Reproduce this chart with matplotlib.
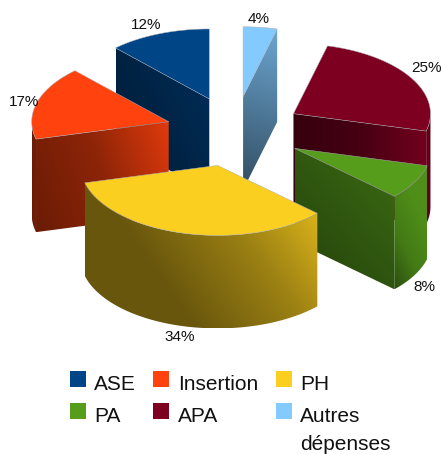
import numpy as np
import matplotlib
matplotlib.use("Agg")
import matplotlib.pyplot as plt
from matplotlib.colors import LinearSegmentedColormap, to_rgb
from matplotlib.patches import Polygon, Rectangle

names = ["ASE", "Insertion", "PH", "PA", "APA", "Autres\ndépenses"]
values = [12, 17, 34, 8, 25, 4]
colors = ["#004586", "#ff420e", "#fbcf1f", "#579d1c", "#7e0021", "#83caff"]

# percent label centres, pixels
label_xy = [(146, 25), (24, 102), (180, 337), (424, 287), (427, 68), (259, 19)]

# pie geometry, pixels
cx, cy = 234.5, 131.5
rx, ry = 137, 70
depth = 93
explode = 0.5

# wall shading: stops as multiples of the base colour, and gradient direction
wall_shade = {
    "ASE": ([0.4, 0.52, 0.68], (1, -0.5)),
    "Insertion": ([0.42, 0.55, 0.88], (1, -0.35)),
    "PA": ([0.42, 0.68], (1, -0.9)),
    "APA": ([0.42, 0.55, 0.9], (1, 0)),
    "Autres\ndépenses": ([0.38, 0.82], (0.35, -1)),
}
rim_shade = {
    "Insertion": ([0.42, 0.45], (1, 0)),
    "PH": ([0.42, 0.42, 0.62, 0.92], (1, -0.7)),
    "PA": ([0.5, 0.78, 0.9, 0.92], (1, -0.5)),
    "APA": ([0.85, 0.7], (1, 0)),
}

fig = plt.figure(figsize=(4.41, 4.54), dpi=100)
ax = fig.add_axes([0, 0, 1, 1])
ax.set_xlim(0, 441)
ax.set_ylim(454, 0)
ax.axis("off")


def ell(ox, oy, deg):
    a = np.radians(deg)
    return np.column_stack([ox + rx * np.cos(a), oy - ry * np.sin(a)])


def shaded(pts, base, stops, direction, z):
    # gradient image clipped to a polygon
    pts = np.asarray(pts)
    x0, y0 = pts.min(axis=0)
    x1, y1 = pts.max(axis=0)
    xx, yy = np.meshgrid(np.linspace(x0, x1, 120), np.linspace(y0, y1, 120))
    t = xx * direction[0] + yy * direction[1]
    t = (t - t.min()) / max(t.max() - t.min(), 1e-6)
    rgb = np.array(to_rgb(base))
    cmap = LinearSegmentedColormap.from_list("s", [tuple(np.clip(rgb * s, 0, 1)) for s in stops])
    im = ax.imshow(t, cmap=cmap, extent=[x0, x1, y1, y0], zorder=z, aspect="auto", interpolation="bilinear")
    patch = Polygon(pts, closed=True, fc="none", ec="none", zorder=z)
    ax.add_patch(patch)
    im.set_clip_path(patch)


fracs = np.array(values) / sum(values)
starts = 90 + np.cumsum(np.r_[0, fracs[:-1]]) * 360
ends = starts + fracs * 360
mids = (starts + ends) / 2

# back to front
order = np.argsort(-np.sin(np.radians(mids)))
z = 2
for i in order:
    a, b = starts[i], ends[i]
    m = np.radians(mids[i])
    ox = cx + explode * rx * np.cos(m)
    oy = cy - explode * ry * np.sin(m)
    apex = np.array([[ox, oy]])
    name = names[i]
    col = colors[i]

    # cut walls that face the viewer
    for edge, seen in ((b, np.cos(np.radians(b)) < -1e-6), (a, np.cos(np.radians(a)) > 1e-6)):
        if seen:
            p = ell(ox, oy, edge)
            wall = np.vstack([apex, p, p + [0, depth], apex + [0, depth]])
            shaded(wall, col, *wall_shade[name], z)
            z += 1

    # outer rim, lower half of the ellipse only
    for lo, hi in ((a, b), (a - 360, b - 360)):
        r0, r1 = max(lo, 180), min(hi, 360)
        if r1 > r0:
            arc = ell(ox, oy, np.linspace(r0, r1, 80))
            rim = np.vstack([arc, (arc + [0, depth])[::-1]])
            shaded(rim, col, *rim_shade[name], z)
            z += 1

    top = np.vstack([apex, ell(ox, oy, np.linspace(a, b, 100))])
    ax.add_patch(Polygon(top, closed=True, fc=col, ec="#a9aeb4", lw=0.35, zorder=z))
    z += 1

for xy, v in zip(label_xy, values):
    ax.text(xy[0], xy[1], "%d%%" % v, ha="center", va="center", fontsize=11,
            family="Liberation Sans", color="#111111", zorder=50)

# legend
col_box = [70, 153, 276]
col_text = [94, 178, 300]
row_y = [371, 403]
for i, name in enumerate(names):
    r, c = divmod(i, 3)
    ax.add_patch(Rectangle((col_box[c], row_y[r]), 16, 16, fc=colors[i], ec="none", zorder=50))
    for k, line in enumerate(name.split("\n")):
        ax.text(col_text[c], row_y[r] + 19 + k * 28, line, ha="left", va="baseline", fontsize=15,
                family="Liberation Sans", color="#111111", zorder=50)

fig.savefig("out.png", dpi=100)
